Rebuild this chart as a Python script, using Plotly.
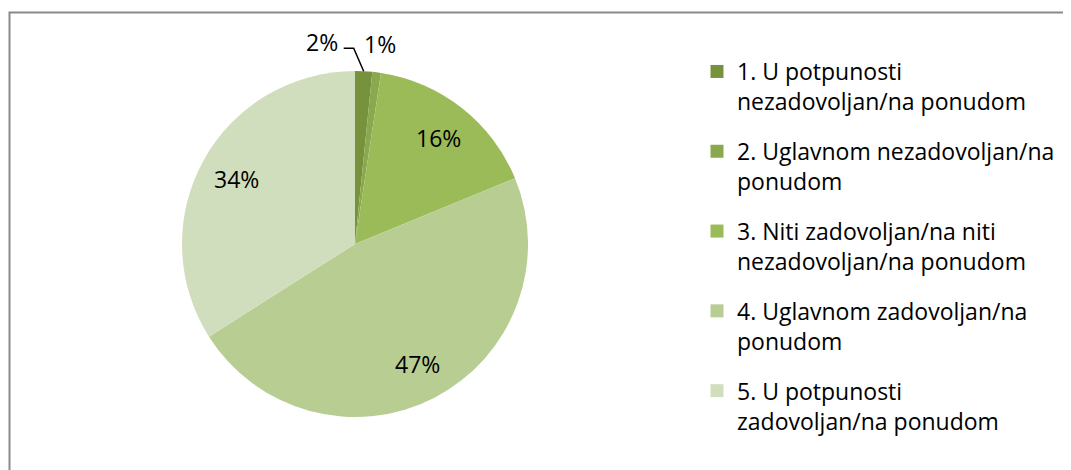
import math
import plotly.graph_objects as go

categories = [
    "1. U potpunosti<br>nezadovoljan/na ponudom",
    "2. Uglavnom nezadovoljan/na<br>ponudom",
    "3. Niti zadovoljan/na niti<br>nezadovoljan/na ponudom",
    "4. Uglavnom zadovoljan/na<br>ponudom",
    "5. U potpunosti<br>zadovoljan/na ponudom",
]
values = [1.6, 0.8, 16.4, 47.2, 34.0]
colors = ["#76923C", "#8AA84E", "#9BBB59", "#B8CD92", "#D1DEBD"]
label_inside = [False, False, True, True, True]

# figure size (page body has an 8px margin)
W, H = 1063, 462
FONT = "'Open Sans', 'Noto Sans', sans-serif"
FS = 23

# pie geometry in pixels (top-left origin)
CX, CY, R = 347, 236, 173


def px(x):
    return x / W


def py(y):
    return 1 - y / H


total = sum(values)
cum = 0.0
annotations = []
shapes = []
for i, v in enumerate(values):
    mid = (cum + v / 2) / total * 2 * math.pi
    cum += v
    pct = f"{round(v / total * 100):.0f}%"
    tfont = dict(family=FONT, size=FS, color="#000000")
    if label_inside[i]:
        k = 0.78 * R
        annotations.append(dict(
            x=px(CX + k * math.sin(mid)), y=py(CY - k * math.cos(mid)),
            xref="paper", yref="paper", text=pct, showarrow=False,
            xanchor="center", yanchor="middle", font=tfont,
        ))
    else:
        ko = R + 29
        lx = CX + ko * math.sin(mid)
        ly = CY - ko * math.cos(mid)
        if i == 0:
            # label pushed left with an elbow leader line
            ex = CX + R * math.sin(mid)
            ey = CY - R * math.cos(mid)
            elx, ely = ex - 10, ey - 23
            hx = elx - 10
            annotations.append(dict(
                x=px(hx - 4), y=py(ely - 6), xref="paper", yref="paper",
                text=pct, showarrow=False, xanchor="right", yanchor="middle",
                font=tfont,
            ))
            shapes.append(dict(
                type="path", xref="paper", yref="paper",
                path=f"M {px(hx)} {py(ely)} L {px(elx)} {py(ely)} L {px(ex)} {py(ey)}",
                line=dict(color="#000000", width=1.5),
            ))
        else:
            annotations.append(dict(
                x=px(lx), y=py(ly), xref="paper", yref="paper",
                text=pct, showarrow=False, xanchor="center", yanchor="middle",
                font=tfont,
            ))

fig = go.Figure()
fig.add_trace(go.Pie(
    labels=categories,
    values=values,
    sort=False,
    direction="clockwise",
    rotation=0,
    marker=dict(colors=colors, line=dict(width=0)),
    textinfo="none",
    domain=dict(x=[px(CX - R), px(CX + R)], y=[py(CY + R), py(CY - R)]),
    hoverinfo="skip",
    showlegend=False,
))

# legend entries, one per category (so that group gaps can space them)
for i, (name, col) in enumerate(zip(categories, colors)):
    fig.add_trace(go.Scatter(
        x=[None], y=[None], mode="markers", name=name,
        legendgroup=f"g{i}",
        marker=dict(symbol="square", size=13, color=col),
        hoverinfo="skip",
    ))

shapes.append(dict(
    type="rect", xref="paper", yref="paper",
    x0=px(1.5), x1=1.02, y0=-0.02, y1=py(4.5),
    line=dict(color="#898989", width=2),
    fillcolor="rgba(0,0,0,0)",
))

fig.update_layout(
    width=W, height=H,
    margin=dict(l=0, r=0, t=0, b=0),
    paper_bgcolor="white",
    plot_bgcolor="white",
    font=dict(family=FONT, size=FS, color="#000000"),
    showlegend=True,
    xaxis=dict(visible=False),
    yaxis=dict(visible=False),
    legend=dict(
        x=px(689), y=py(42), xanchor="left", yanchor="top",
        valign="top",
        traceorder="grouped",
        tracegroupgap=17,
        font=dict(family=FONT, size=FS, color="#000000"),
        bgcolor="rgba(0,0,0,0)",
    ),
    annotations=annotations,
    shapes=shapes,
)

fig.write_html("out.html")
